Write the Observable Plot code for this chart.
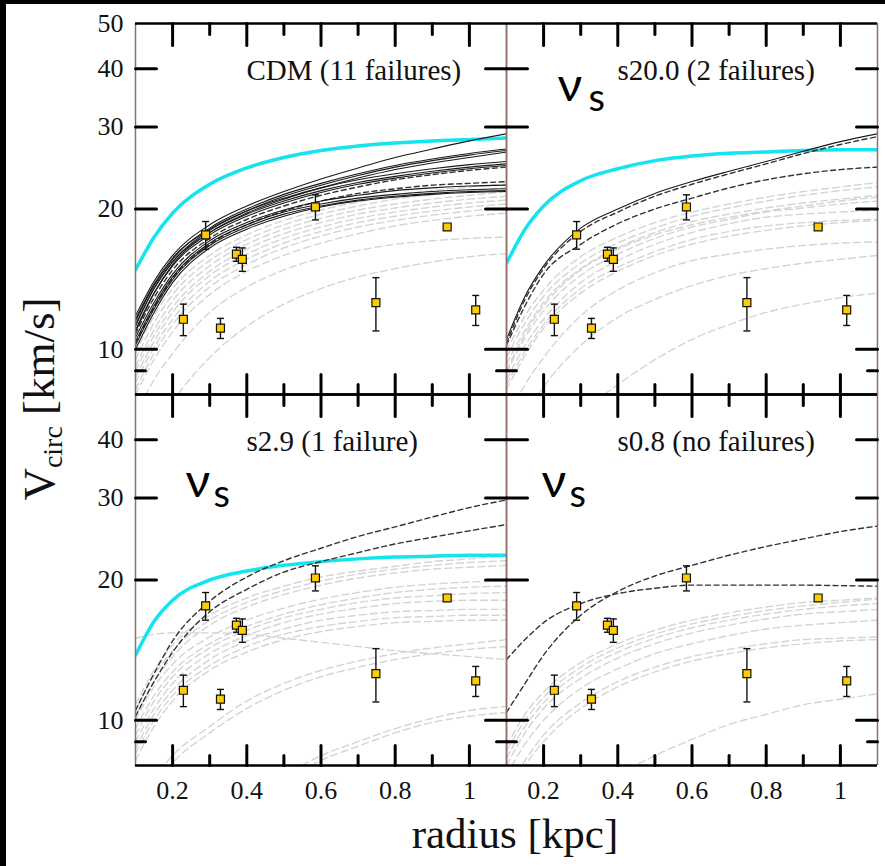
<!DOCTYPE html>
<html><head><meta charset="utf-8">
<script src="https://cdn.jsdelivr.net/npm/d3@7"></script>
<script src="https://cdn.jsdelivr.net/npm/@observablehq/plot@0.6"></script>
<style>
html,body{margin:0;padding:0;background:#000;}
#wrap{position:absolute;left:6px;top:4px;width:879px;height:862px;background:#fff;overflow:hidden;}
#xlab{position:absolute;left:309px;width:400px;top:808px;text-align:center;font:43px/1 "Liberation Serif",serif;color:#111;}
#ylab{position:absolute;left:33px;top:394.5px;transform:translate(-50%,-50%) rotate(-90deg);white-space:nowrap;font:45px/1 "Liberation Serif",serif;color:#111;}
#ylab .sub{font-size:0.62em;position:relative;top:0.3em;}
svg text{font-family:"Liberation Serif",serif;}
svg .sans text, svg text.sans{font-family:"Lato",sans-serif;}
</style></head><body>
<div id="wrap"><div id="chart"></div><div id="xlab">radius [kpc]</div><div id="ylab">V<span class="sub">circ</span> [km/s]</div></div>
<script>
// ---------------- data ----------------
const radii = [0.1, 0.15, 0.2, 0.3, 0.4, 0.5, 0.6, 0.7, 0.8, 0.9, 1.0, 1.1];

const obsR   = [0.229, 0.289, 0.329, 0.372, 0.388, 0.585, 0.748, 0.940, 1.017];
const obsV   = [11.6, 17.6, 11.1, 16.0, 15.6, 20.2, 12.6, 18.3, 12.15];
const obsErr = [0.9, 1.2, 0.55, 0.55, 0.9, 1.25, 1.65, 0.3, 0.9];

const xTicksMajor = [0.2, 0.4, 0.6, 0.8, 1.0];
const xTicksMinor = [0.3, 0.5, 0.7, 0.9];
const yTicksMajor = [10, 20, 30, 40];
const yTicksMinor = [9];
const yLabelsTop = [10, 20, 30, 40, 50];
const yLabelsBottom = [10, 20, 30, 40];

const panelNames = ["CDM (11 failures)", "s20.0 (2 failures)", "s2.9 (1 failure)", "s0.8 (no failures)"];

const cdmCyan = [14.8, 17.4, 19.6, 22.6, 24.5, 25.8, 26.7, 27.3, 27.7, 28.0, 28.2, 28.4];
const cdmSolid = [
  [11.8, 14.0, 15.9, 18.5, 20.3, 21.8, 23.2, 24.5, 25.8, 26.9, 28.0, 29.0],
  [11.5, 13.7, 15.6, 18.2, 20.0, 21.5, 22.7, 23.8, 24.8, 25.6, 26.3, 26.9],
  [11.2, 13.5, 15.4, 18.0, 19.8, 21.3, 22.5, 23.6, 24.6, 25.4, 26.1, 26.7],
  [10.9, 13.2, 15.2, 17.8, 19.6, 21.0, 22.2, 23.3, 24.3, 25.1, 25.8, 26.5],
  [11.6, 13.8, 15.7, 18.1, 19.8, 21.1, 22.2, 23.1, 23.8, 24.4, 24.9, 25.3],
  [11.3, 13.5, 15.4, 17.8, 19.5, 20.8, 21.9, 22.8, 23.5, 24.1, 24.6, 25.0],
  [11.0, 13.2, 15.1, 17.6, 19.3, 20.6, 21.7, 22.6, 23.3, 23.9, 24.4, 24.8],
  [10.4, 12.4, 14.3, 16.9, 18.5, 19.7, 20.5, 21.1, 21.5, 21.8, 22.0, 22.1],
  [10.2, 12.2, 14.1, 16.7, 18.3, 19.5, 20.3, 20.9, 21.3, 21.6, 21.8, 21.9],
  [10.0, 12.0, 13.9, 16.5, 18.1, 19.3, 20.2, 20.8, 21.2, 21.5, 21.7, 21.8],
  [10.6, 12.6, 14.5, 17.1, 18.7, 19.9, 20.8, 21.4, 21.9, 22.2, 22.4, 22.5]
];
const cdmDashed = [
  [10.8, 12.9, 14.8, 17.3, 19.0, 20.3, 21.4, 22.3, 23.1, 23.7, 24.2, 24.6],
  [10.3, 12.3, 14.2, 16.8, 18.5, 19.8, 20.8, 21.6, 22.1, 22.5, 22.7, 22.9]
];
const cdmGrey = [
  [9.8, 11.8, 13.5, 15.9, 17.6, 18.9, 19.9, 20.7, 21.4, 21.9, 22.3, 22.6],
  [9.5, 11.4, 13.1, 15.5, 17.2, 18.5, 19.5, 20.3, 21.0, 21.5, 21.9, 22.2],
  [9.2, 11.0, 12.7, 15.1, 16.8, 18.1, 19.1, 19.9, 20.5, 21.0, 21.4, 21.8],
  [9.0, 10.7, 12.3, 14.7, 16.4, 17.7, 18.7, 19.5, 20.1, 20.6, 21.0, 21.3],
  [8.7, 10.4, 12.0, 14.4, 16.0, 17.3, 18.3, 19.1, 19.7, 20.2, 20.6, 20.9],
  [8.5, 10.1, 11.6, 14.0, 15.6, 16.9, 17.9, 18.7, 19.3, 19.8, 20.2, 20.5],
  [8.2, 9.8, 11.3, 13.6, 15.2, 16.5, 17.5, 18.3, 18.9, 19.4, 19.8, 20.1],
  [8.0, 9.5, 10.9, 13.1, 14.7, 15.9, 16.9, 17.7, 18.4, 18.9, 19.3, 19.6],
  [7.2, 8.6, 9.8, 12.0, 13.6, 14.8, 15.7, 16.3, 16.8, 17.1, 17.3, 17.4],
  [5.5, 6.6, 7.7, 9.6, 11.2, 12.5, 13.5, 14.3, 14.9, 15.4, 15.8, 16.05]
];

const s20Cyan = [15.3, 18.1, 20.3, 23.0, 24.4, 25.4, 26.0, 26.35, 26.5, 26.7, 26.8, 26.8];
const s20Solid = [
  [10.5, 13.0, 15.1, 18.2, 20.0, 21.6, 22.9, 24.1, 25.3, 26.6, 27.9, 29.0]
];
const s20Dashed = [
  [10.3, 12.8, 14.9, 17.9, 19.7, 21.3, 22.6, 23.8, 25.0, 26.3, 27.5, 28.6],
  [10.2, 12.4, 14.5, 16.8, 18.6, 20.0, 21.1, 22.2, 23.1, 23.8, 24.3, 24.6]
];
const s20Grey = [
  [9.9, 11.8, 13.4, 15.8, 17.4, 18.7, 19.7, 20.5, 21.2, 21.8, 22.3, 22.8],
  [9.6, 11.4, 13.0, 15.3, 16.9, 18.2, 19.3, 20.1, 20.8, 21.4, 21.9, 22.3],
  [9.0, 10.8, 12.4, 14.8, 16.4, 17.6, 18.5, 19.2, 19.8, 20.3, 20.8, 21.2],
  [9.3, 11.0, 12.6, 14.9, 16.5, 17.8, 18.8, 19.5, 20.1, 20.6, 21.0, 21.4],
  [8.9, 10.6, 12.1, 14.4, 16.0, 17.3, 18.3, 19.0, 19.7, 20.1, 20.5, 20.8],
  [8.6, 10.2, 11.6, 13.9, 15.5, 16.8, 17.8, 18.6, 19.2, 19.5, 19.7, 19.9],
  [8.4, 9.9, 11.3, 13.5, 15.0, 16.2, 17.2, 17.9, 18.4, 18.7, 18.9, 19.0],
  [8.2, 9.7, 11.1, 13.2, 14.7, 15.9, 16.8, 17.5, 18.0, 18.4, 18.7, 18.9],
  [7.0, 8.4, 9.6, 11.8, 13.4, 14.6, 15.5, 16.0, 16.4, 16.7, 16.9, 17.0],
  [6.0, 7.2, 8.3, 10.2, 11.7, 12.8, 13.7, 14.4, 14.9, 15.3, 15.6, 15.9],
  [4.5, 5.3, 6.0, 7.3, 8.4, 9.5, 10.5, 11.3, 12.0, 12.5, 12.9, 13.2]
];

const s29Cyan = [13.8, 16.3, 18.1, 20.0, 20.9, 21.5, 21.9, 22.2, 22.4, 22.5, 22.6, 22.6];
const s29Solid = [];
const s29Dashed = [
  [10.5, 12.6, 14.8, 18.0, 20.3, 22.0, 23.4, 24.8, 26.0, 27.3, 28.6, 29.7],
  [10.2, 12.1, 14.0, 17.1, 19.1, 20.8, 21.9, 22.9, 23.9, 24.7, 25.5, 26.3]
];
const s29Grey = [
  [10.8, 12.8, 14.5, 16.8, 18.3, 19.4, 20.3, 20.9, 21.4, 21.9, 22.2, 22.5],
  [10.5, 12.5, 14.1, 16.4, 17.9, 19.0, 19.9, 20.6, 21.1, 21.5, 21.8, 22.0],
  [10.2, 12.1, 13.7, 16.0, 17.5, 18.6, 19.5, 20.2, 20.7, 21.1, 21.3, 21.5],
  [10.0, 11.8, 13.2, 15.1, 16.4, 17.4, 18.2, 18.8, 19.3, 19.6, 19.8, 19.9],
  [9.6, 11.3, 12.7, 14.6, 15.9, 16.9, 17.7, 18.3, 18.8, 19.1, 19.3, 19.4],
  [9.3, 11.0, 12.4, 14.3, 15.6, 16.6, 17.3, 17.9, 18.3, 18.5, 18.7, 18.8],
  [9.0, 10.6, 12.0, 13.9, 15.2, 16.2, 16.9, 17.4, 17.8, 18.0, 18.1, 18.1],
  [8.7, 10.3, 11.6, 13.5, 14.8, 15.7, 16.4, 16.8, 17.1, 17.2, 17.3, 17.3],
  [8.5, 10.0, 11.3, 13.1, 14.4, 15.3, 15.9, 16.3, 16.6, 16.7, 16.8, 16.8],
  [8.2, 9.7, 11.0, 12.8, 14.0, 14.9, 15.5, 15.9, 16.2, 16.3, 16.4, 16.4],
  [15.0, 15.3, 15.4, 15.4, 15.3, 15.0, 14.7, 14.4, 14.1, 13.9, 13.7, 13.5],
  [6.5, 7.5, 8.4, 9.7, 11.0, 12.0, 12.8, 13.4, 13.9, 14.3, 14.6, 14.9],
  [6.3, 7.2, 8.1, 9.4, 10.6, 11.6, 12.4, 13.0, 13.5, 13.9, 14.2, 14.4],
  [3.5, 4.2, 4.9, 5.9, 6.8, 7.6, 8.4, 9.0, 9.6, 10.1, 10.5, 10.7],
  [3.4, 4.1, 4.8, 5.8, 6.6, 7.4, 8.2, 8.8, 9.4, 9.9, 10.2, 10.4]
];

const s08Cyan = [];
const s08Solid = [];
const s08Dashed = [
  [13.5, 14.9, 16.2, 17.8, 18.7, 19.2, 19.5, 19.5, 19.5, 19.5, 19.45, 19.4],
  [10.4, 12.0, 13.8, 16.8, 18.9, 20.4, 21.5, 22.6, 23.6, 24.5, 25.4, 26.1]
];
const s08Grey = [
  [8.8, 10.3, 11.5, 13.3, 14.6, 15.6, 16.4, 17.0, 17.5, 17.9, 18.1, 18.3],
  [8.6, 10.0, 11.2, 13.0, 14.3, 15.3, 16.1, 16.7, 17.2, 17.6, 17.9, 18.2],
  [8.3, 9.7, 10.9, 12.7, 14.0, 15.0, 15.8, 16.4, 16.9, 17.3, 17.6, 17.8],
  [8.0, 9.4, 10.6, 12.3, 13.6, 14.6, 15.4, 16.0, 16.5, 16.9, 17.1, 17.3],
  [7.6, 8.9, 10.0, 11.7, 12.9, 13.9, 14.6, 15.2, 15.7, 16.0, 16.2, 16.4],
  [7.0, 8.2, 9.3, 10.9, 12.1, 13.0, 13.7, 14.2, 14.6, 14.9, 15.0, 15.1],
  [6.8, 8.0, 9.0, 10.6, 11.8, 12.7, 13.4, 13.9, 14.3, 14.6, 14.8, 14.9],
  [4.0, 4.8, 5.5, 6.6, 7.6, 8.4, 9.1, 9.8, 10.3, 10.8, 11.1, 11.4]
];

// ---------------- build tables ----------------
const panels = [
  {col: "L", row: "T", name: panelNames[0], cyan: cdmCyan, solid: cdmSolid, dashed: cdmDashed, grey: cdmGrey},
  {col: "R", row: "T", name: panelNames[1], cyan: s20Cyan, solid: s20Solid, dashed: s20Dashed, grey: s20Grey},
  {col: "L", row: "B", name: panelNames[2], cyan: s29Cyan, solid: s29Solid, dashed: s29Dashed, grey: s29Grey},
  {col: "R", row: "B", name: panelNames[3], cyan: s08Cyan, solid: s08Solid, dashed: s08Dashed, grey: s08Grey}
];
function rowsOf(kind) {
  const out = [];
  for (const p of panels) {
    const curves = kind === "cyan" ? (p.cyan.length ? [p.cyan] : []) : p[kind];
    curves.forEach((c, k) => c.forEach((v, i) => out.push({col: p.col, row: p.row, id: `${p.col}${p.row}-${kind}-${k}`, r: radii[i], v})));
  }
  return out;
}
const obs = obsR.map((r, i) => ({r, v: obsV[i], e: obsErr[i]}));
const yLabelRows = [
  ...yLabelsTop.map(v => ({col: "L", row: "T", v})),
  ...yLabelsBottom.map(v => ({col: "L", row: "B", v}))
];
const xLabelRows = ["L", "R"].flatMap(col => xTicksMajor.map(x => ({col, row: "B", x})));

const tickShape = {draw(ctx, l) { ctx.moveTo(0, 0); ctx.lineTo(0, -l); }};
const capSym = {draw(ctx, size) { const w = Math.sqrt(size / Math.PI); ctx.moveTo(-w, 0); ctx.lineTo(w, 0); }};

const serif = '"Liberation Serif", serif';
const sans = '"Lato", sans-serif';
const tickStyle = {shape: tickShape, anchor: "start", stroke: "#000", strokeWidth: 3};

function nu(col, row, dx, dy, sdx, sdy) {
  return [
    Plot.text([{col, row}], {fx: "col", fy: "row", text: () => "ν", frameAnchor: "top-left", dx, dy, textAnchor: "start", lineAnchor: "bottom", fontFamily: sans, fontSize: 48, fill: "#000", className: "sans"}),
    Plot.text([{col, row}], {fx: "col", fy: "row", text: () => "s", frameAnchor: "top-left", dx: sdx, dy: sdy, textAnchor: "start", lineAnchor: "bottom", fontFamily: sans, fontSize: 38, fill: "#000", className: "sans"})
  ];
}

const chart = Plot.plot({
  width: 879, height: 862,
  marginLeft: 129, marginRight: 8, marginTop: 19, marginBottom: 101,
  x: {domain: [0.1, 1.1], axis: null},
  y: {type: "log", domain: [8, 50], axis: null},
  fx: {domain: ["L", "R"], padding: 0, axis: null},
  fy: {domain: ["T", "B"], padding: 0, axis: null},
  style: {background: "white", fontFamily: serif},
  marks: [
    Plot.line(rowsOf("grey"), {x: "r", y: "v", z: "id", fx: "col", fy: "row", stroke: "#d4d4d4", strokeWidth: 1.4, strokeDasharray: "7,4", curve: "monotone-x", clip: true}),
    Plot.line(rowsOf("cyan"), {x: "r", y: "v", z: "id", fx: "col", fy: "row", stroke: "#14e4f0", strokeWidth: 3.5, curve: "monotone-x", clip: true}),
    Plot.line(rowsOf("dashed"), {x: "r", y: "v", z: "id", fx: "col", fy: "row", stroke: "#333", strokeWidth: 1.4, strokeDasharray: "5,3.5", curve: "monotone-x", clip: true}),
    Plot.line(rowsOf("solid"), {x: "r", y: "v", z: "id", fx: "col", fy: "row", stroke: "#1a1a1a", strokeWidth: 1.1, curve: "monotone-x", clip: true}),
    // frame
    Plot.ruleX([0.1, 1.1], {stroke: "#8f6f66", strokeWidth: 1.5}),
    Plot.ruleY([8, 50], {stroke: "#000", strokeWidth: 2.6}),
    // inward ticks
    Plot.vector(yTicksMajor, {y: d => d, frameAnchor: "left", rotate: 90, length: 21, ...tickStyle}),
    Plot.vector(yTicksMinor, {y: d => d, frameAnchor: "left", rotate: 90, length: 10, ...tickStyle}),
    Plot.vector(yTicksMajor, {y: d => d, frameAnchor: "right", rotate: 270, length: 21, ...tickStyle}),
    Plot.vector(yTicksMinor, {y: d => d, frameAnchor: "right", rotate: 270, length: 10, ...tickStyle}),
    Plot.vector(xTicksMajor, {x: d => d, frameAnchor: "bottom", rotate: 0, length: 20, ...tickStyle}),
    Plot.vector(xTicksMinor, {x: d => d, frameAnchor: "bottom", rotate: 0, length: 10, ...tickStyle}),
    Plot.vector(xTicksMajor, {x: d => d, frameAnchor: "top", rotate: 180, length: 22, ...tickStyle}),
    Plot.vector(xTicksMinor, {x: d => d, frameAnchor: "top", rotate: 180, length: 11, ...tickStyle}),
    // observations
    Plot.ruleX(obs, {x: "r", y1: d => d.v - d.e, y2: d => d.v + d.e, stroke: "#111", strokeWidth: 1.4}),
    Plot.dot(obs, {x: "r", y: d => d.v + d.e, symbol: capSym, r: 3.5, stroke: "#111", strokeWidth: 1.4, fill: "none"}),
    Plot.dot(obs, {x: "r", y: d => d.v - d.e, symbol: capSym, r: 3.5, stroke: "#111", strokeWidth: 1.4, fill: "none"}),
    Plot.dot(obs, {x: "r", y: "v", symbol: "square", r: 4.5, fill: "#ffcc00", stroke: "#111", strokeWidth: 1.2}),
    // tick labels
    Plot.text(yLabelRows, {y: "v", fx: "col", fy: "row", text: d => String(d.v), frameAnchor: "left", dx: -12, textAnchor: "end", fontFamily: serif, fontSize: 26, fill: "#111"}),
    Plot.text(xLabelRows, {x: "x", fx: "col", fy: "row", text: d => String(d.x), frameAnchor: "bottom", dy: 15, lineAnchor: "top", fontFamily: serif, fontSize: 26, fill: "#111"}),
    // panel names
    Plot.text(panels, {fx: "col", fy: "row", text: "name", frameAnchor: "top-left", dx: 111, dy: 56.5, textAnchor: "start", lineAnchor: "bottom", fontFamily: serif, fontSize: 29, fill: "#111"}),
    ...nu("R", "T", 51, 77, 82, 87),
    ...nu("L", "B", 50, 102, 78, 112),
    ...nu("R", "B", 35, 102, 63, 112)
  ]
});
document.getElementById("chart").appendChild(chart);
</script></body></html>
